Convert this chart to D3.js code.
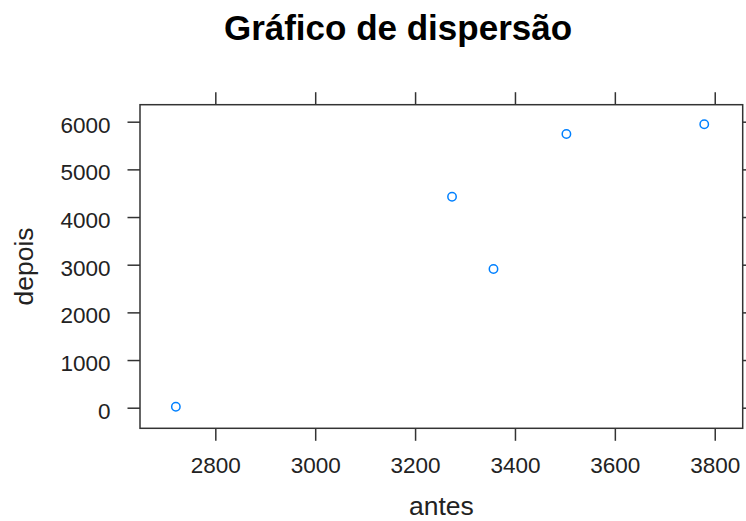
<!DOCTYPE html>
<html>
<head>
<meta charset="utf-8">
<script src="https://cdn.jsdelivr.net/npm/d3@7"></script>
<style>
  html, body { margin: 0; padding: 0; background: #fff; }
  svg { display: block; font-family: Arial, "Liberation Sans", sans-serif; }
</style>
</head>
<body>
<svg id="chart" width="746" height="521"></svg>
<script>
const antes = [2721, 3274, 3357, 3503, 3779];
const depois = [21, 4426, 2910, 5742, 5945];
const xTicks = [2800, 3000, 3200, 3400, 3600, 3800];
const yTicks = [0, 1000, 2000, 3000, 4000, 5000, 6000];
const title = "Gráfico de dispersão";
const xLabel = "antes";
const yLabel = "depois";

const svg = d3.select("#chart");
const panel = { left: 140, top: 104.7, right: 742.7, bottom: 428.3 };

const x = d3.scaleLinear().domain([2649.2, 3856]).range([panel.left, panel.right]);
const y = d3.scaleLinear().domain([-432, 6356.6]).range([panel.bottom, panel.top]);

const axisColor = "#333";
const tickLen = 12.5;

function styleAxis(g) {
  g.select(".domain").remove();
  g.selectAll(".tick line").attr("stroke", axisColor).attr("stroke-width", 1.5);
}

// bottom axis with labels
svg.append("g")
  .attr("transform", `translate(0,${panel.bottom})`)
  .call(d3.axisBottom(x).tickValues(xTicks).tickSize(tickLen).tickPadding(0).tickFormat(d3.format("d")))
  .call(styleAxis)
  .call(g => g.selectAll(".tick text")
    .attr("y", 45).attr("dy", null)
    .attr("fill", "#222").attr("font-size", 22.5));

// top axis ticks only
svg.append("g")
  .attr("transform", `translate(0,${panel.top})`)
  .call(d3.axisTop(x).tickValues(xTicks).tickSize(tickLen).tickFormat(""))
  .call(styleAxis);

// left axis with labels
svg.append("g")
  .attr("transform", `translate(${panel.left},0)`)
  .call(d3.axisLeft(y).tickValues(yTicks).tickSize(tickLen).tickPadding(17).tickFormat(d3.format("d")))
  .call(styleAxis)
  .call(g => g.selectAll(".tick text")
    .attr("dy", "0.47em")
    .attr("fill", "#222").attr("font-size", 22.5));

// right axis ticks only
svg.append("g")
  .attr("transform", `translate(${panel.right},0)`)
  .call(d3.axisRight(y).tickValues(yTicks).tickSize(tickLen).tickFormat(""))
  .call(styleAxis);

// panel box
svg.append("rect")
  .attr("x", panel.left).attr("y", panel.top)
  .attr("width", panel.right - panel.left).attr("height", panel.bottom - panel.top)
  .attr("fill", "none").attr("stroke", axisColor).attr("stroke-width", 1.5);

// points
svg.append("g").selectAll("circle")
  .data(antes.map((a, i) => ({ a, d: depois[i] })))
  .join("circle")
  .attr("cx", p => x(p.a))
  .attr("cy", p => y(p.d))
  .attr("r", 4.2)
  .attr("fill", "none")
  .attr("stroke", "#0080ff")
  .attr("stroke-width", 1.5);

// title
svg.append("text")
  .attr("x", 398).attr("y", 40)
  .attr("text-anchor", "middle")
  .attr("font-size", 35).attr("font-weight", "bold")
  .attr("fill", "#000")
  .text(title);

// x label
svg.append("text")
  .attr("x", (panel.left + panel.right) / 2).attr("y", 515)
  .attr("text-anchor", "middle")
  .attr("font-size", 26.5).attr("fill", "#222")
  .text(xLabel);

// y label
svg.append("text")
  .attr("transform", `translate(33,${(panel.top + panel.bottom) / 2}) rotate(-90)`)
  .attr("text-anchor", "middle")
  .attr("font-size", 26.5).attr("fill", "#222")
  .text(yLabel);
</script>
</body>
</html>
